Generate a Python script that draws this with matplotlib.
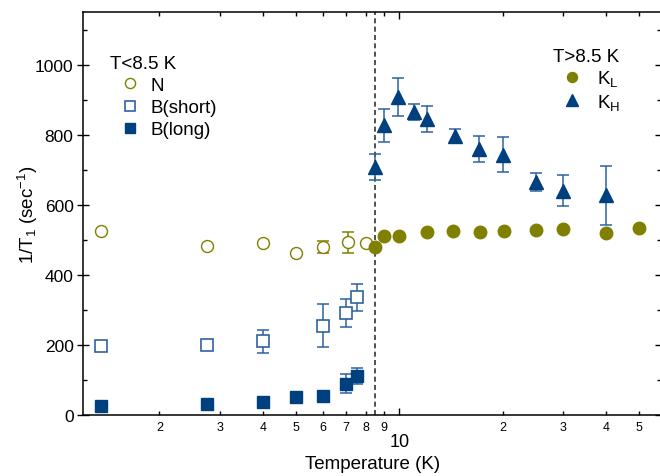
import numpy as np
import matplotlib
matplotlib.use("Agg")
import matplotlib.pyplot as plt
from matplotlib.lines import Line2D
from matplotlib.ticker import FixedLocator, FixedFormatter

plt.rcParams['font.family'] = ['Liberation Sans', 'DejaVu Sans']
plt.rcParams['mathtext.fontset'] = 'custom'
plt.rcParams['mathtext.rm'] = 'Liberation Sans'
plt.rcParams['mathtext.default'] = 'regular'

# T < 8.5 K
n_T = [1.35, 2.75, 4.0, 5.0, 6.0, 7.1, 8.0]
n_rate = [526, 482, 491, 464, 480, 493, 491]
n_err = [0, 0, 0, 0, 17, 29, 0]

bs_T = [1.35, 2.75, 4.0, 6.0, 7.0, 7.5]
bs_rate = [198, 200, 210, 255, 291, 336]
bs_err = [0, 6, 33, 61, 41, 39]

bl_T = [1.35, 2.75, 4.0, 5.0, 6.0, 7.0, 7.5]
bl_rate = [27, 30, 36, 52, 55, 89, 112]
bl_err = [0, 0, 0, 0, 0, 27, 23]

# T > 8.5 K
kl_T = [8.5, 9.0, 10.0, 12.0, 14.3, 17.2, 20.2, 25.0, 30.0, 40.0, 50.0]
kl_rate = [481, 512, 510, 524, 527, 524, 525, 529, 530, 519, 533]

kh_T = [8.5, 9.0, 9.9, 11.0, 12.0, 14.5, 17.0, 20.0, 25.0, 30.0, 40.0]
kh_rate = [708, 827, 909, 865, 846, 798, 760, 744, 665, 641, 627]
kh_err = [38, 48, 54, 22, 37, 20, 38, 49, 26, 45, 85]

T_c = 8.5
minor_ticks = [2, 3, 4, 5, 6, 7, 8, 9, 20, 30, 40, 50]
minor_labels = ['2', '3', '4', '5', '6', '7', '8', '9', '2', '3', '4', '5']

olive = '#808000'
blue = '#00407f'
blue_err = '#2d62a0'

fig = plt.figure(figsize=(6.6, 4.77), dpi=100)
ax = fig.add_axes([83.3 / 660, 61 / 477, 577.7 / 660, 403.3 / 477])

ax.axvline(T_c, color='#333333', lw=1.2, ls=(0, (3, 2)), zorder=1)

# error bars first, markers on top
ax.errorbar(n_T, n_rate, yerr=n_err, fmt='none', ecolor=olive, elinewidth=1.1, capsize=4.5, capthick=1.1)
ax.errorbar(bs_T, bs_rate, yerr=bs_err, fmt='none', ecolor=blue_err, elinewidth=1.1, capsize=4.5, capthick=1.1)
ax.errorbar(bl_T, bl_rate, yerr=bl_err, fmt='none', ecolor=blue_err, elinewidth=1.1, capsize=4.5, capthick=1.1)
ax.errorbar(kh_T, kh_rate, yerr=kh_err, fmt='none', ecolor=blue_err, elinewidth=1.1, capsize=4.5, capthick=1.1)

ax.plot(n_T, n_rate, 'o', ms=8.6, mfc='white', mec=olive, mew=1.0, ls='none', zorder=3)
ax.plot(bs_T, bs_rate, 's', ms=8.3, mfc='white', mec=blue_err, mew=1.2, ls='none', zorder=3)
ax.plot(bl_T, bl_rate, 's', ms=9, mfc=blue, mec=blue, mew=1.0, ls='none', zorder=3)
ax.plot(kh_T, kh_rate, '^', ms=10, mfc=blue, mec=blue, mew=1.0, ls='none', zorder=3)
ax.plot(kl_T, kl_rate, 'o', ms=9, mfc=olive, mec=olive, mew=1.0, ls='none', zorder=4)

ax.set_xscale('log')
ax.set_xlim(1.20, 57.8)
ax.set_ylim(0, 1152)

ax.xaxis.set_major_locator(FixedLocator([10]))
ax.xaxis.set_minor_locator(FixedLocator(minor_ticks))
ax.xaxis.set_minor_formatter(FixedFormatter(minor_labels))
ax.set_xticklabels(['10'])
ax.set_yticks([0, 200, 400, 600, 800, 1000])
ax.set_yticks(np.arange(100, 1200, 200), minor=True)

ax.tick_params(axis='x', which='major', direction='in', length=5, width=1.0,
               top=True, labelsize=13, pad=13)
ax.tick_params(axis='x', which='minor', direction='in', length=3, width=1.0,
               top=True, labelsize=9, pad=4)
ax.tick_params(axis='y', which='major', direction='inout', length=8, width=1.0,
               labelsize=12.5, pad=3)
ax.tick_params(axis='y', which='minor', direction='in', length=3, width=1.0)
ax.tick_params(axis='y', which='both', right=True)

for s in ax.spines.values():
    s.set_linewidth(1.1)

ax.set_xlabel('Temperature (K)', fontsize=13.5)
ax.set_ylabel('1/T$_1$ (sec$^{-1}$)', fontsize=13.5)
ax.xaxis.set_label_coords(0.5, -0.098)
ax.yaxis.set_label_coords(-0.075, 0.5)

low_handles = [
    Line2D([], [], marker='o', ls='none', ms=8.6, mfc='white', mec=olive, mew=1.0),
    Line2D([], [], marker='s', ls='none', ms=8.3, mfc='white', mec=blue_err, mew=1.2),
    Line2D([], [], marker='s', ls='none', ms=9, mfc=blue, mec=blue),
]
leg1 = ax.legend(low_handles, ['N', 'B(short)', 'B(long)'], title='T<8.5 K',
                 loc='upper left', bbox_to_anchor=(0.046, 0.893), frameon=False,
                 fontsize=13.5, title_fontsize=13.5, alignment='left',
                 borderpad=0, borderaxespad=0, handlelength=2.1, handletextpad=0.05,
                 labelspacing=0.27, markerscale=0.85)
ax.add_artist(leg1)

high_handles = [
    Line2D([], [], marker='o', ls='none', ms=9, mfc=olive, mec=olive),
    Line2D([], [], marker='^', ls='none', ms=10, mfc=blue, mec=blue),
]
ax.legend(high_handles, ['K$_L$', 'K$_H$'], title='T>8.5 K',
          loc='upper left', bbox_to_anchor=(0.813, 0.91), frameon=False,
          fontsize=13.5, title_fontsize=13.5, alignment='left',
          borderpad=0, borderaxespad=0, handlelength=2.0, handletextpad=0.35,
          labelspacing=0.18, markerscale=0.8)

fig.savefig('out.png', dpi=100)
